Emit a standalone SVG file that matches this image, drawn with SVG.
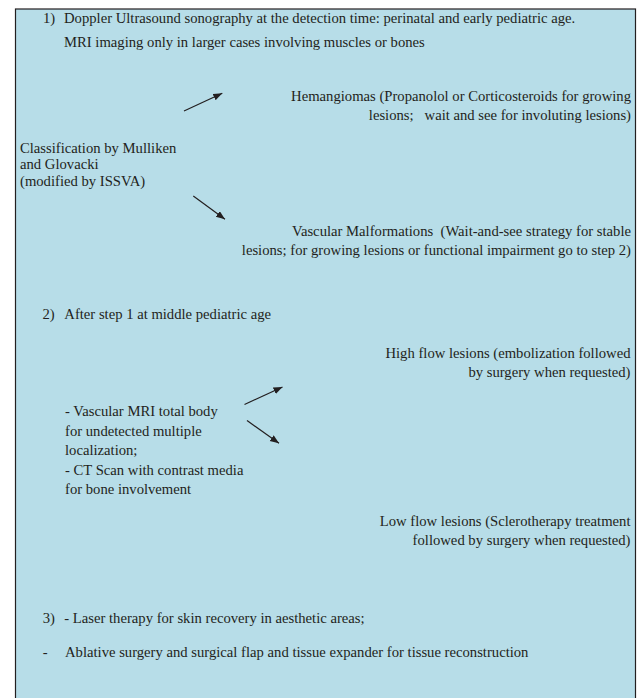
<svg xmlns="http://www.w3.org/2000/svg" width="640" height="698" viewBox="0 0 640 698">
<style>
  text { font-family: "Liberation Serif", "Times New Roman", serif; font-size: 14.67px; fill: #231f20; white-space: pre; }
  .r { text-anchor: end; }
  .conn { stroke: #231f20; stroke-width: 1.2; fill: none; marker-end: url(#ah); }
</style>
<defs>
  <marker id="ah" markerUnits="userSpaceOnUse" markerWidth="10" markerHeight="8" refX="9" refY="3.5" orient="auto">
    <path d="M0,0 L9,3.5 L0,7 z" fill="#231f20"/>
  </marker>
</defs>
<rect x="0" y="0" width="640" height="698" fill="#ffffff"/>
<rect id="panel" x="15.5" y="9" width="620" height="700" fill="#b7dde8" stroke="#231f20" stroke-width="1.2"/>

<g id="step1">
  <text x="43" y="22.5">1)</text>
  <text x="64" y="22.5">Doppler Ultrasound sonography at the detection time: perinatal and early pediatric age.</text>
  <text x="64" y="46.5">MRI imaging only in larger cases involving muscles or bones</text>
</g>
<g id="hemangiomas">
  <text class="r" x="631" y="101">Hemangiomas (Propanolol or Corticosteroids for growing</text>
  <text class="r" x="631" y="119.5">lesions;   wait and see for involuting lesions)</text>
</g>
<g id="classification">
  <text x="20" y="152.7">Classification by Mulliken</text>
  <text x="20" y="169.3">and Glovacki</text>
  <text x="20" y="186">(modified by ISSVA)</text>
</g>
<g id="malformations">
  <text class="r" x="631" y="236">Vascular Malformations  (Wait-and-see strategy for stable</text>
  <text class="r" x="631" y="255">lesions; for growing lesions or functional impairment go to step 2)</text>
</g>
<g id="step2">
  <text x="42.5" y="319.3">2)</text>
  <text x="64.3" y="319.3">After step 1 at middle pediatric age</text>
</g>
<g id="highflow">
  <text class="r" x="630.5" y="357.7">High flow lesions (embolization followed</text>
  <text class="r" x="630.5" y="376.7">by surgery when requested)</text>
</g>
<g id="imaging">
  <text x="65" y="416">- Vascular MRI total body</text>
  <text x="65" y="435.5">for undetected multiple</text>
  <text x="65" y="455.2">localization;</text>
  <text x="65" y="474.8">- CT Scan with contrast media</text>
  <text x="65" y="494.4">for bone involvement</text>
</g>
<g id="lowflow">
  <text class="r" x="630.5" y="526">Low flow lesions (Sclerotherapy treatment</text>
  <text class="r" x="630.5" y="545">followed by surgery when requested)</text>
</g>
<g id="step3">
  <text x="42.7" y="623.3">3)</text>
  <text x="64.3" y="623.3">- Laser therapy for skin recovery in aesthetic areas;</text>
  <text x="42.7" y="656.7">-</text>
  <text x="65" y="656.7">Ablative surgery and surgical flap and tissue expander for tissue reconstruction</text>
</g>

<g id="connectors">
  <line class="conn" x1="184" y1="111" x2="222.3" y2="93.3"/>
  <line class="conn" x1="193.3" y1="196" x2="225" y2="219.3"/>
  <line class="conn" x1="244.5" y1="404.5" x2="282.5" y2="387"/>
  <line class="conn" x1="247" y1="420.5" x2="279" y2="443.3"/>
</g>
</svg>
